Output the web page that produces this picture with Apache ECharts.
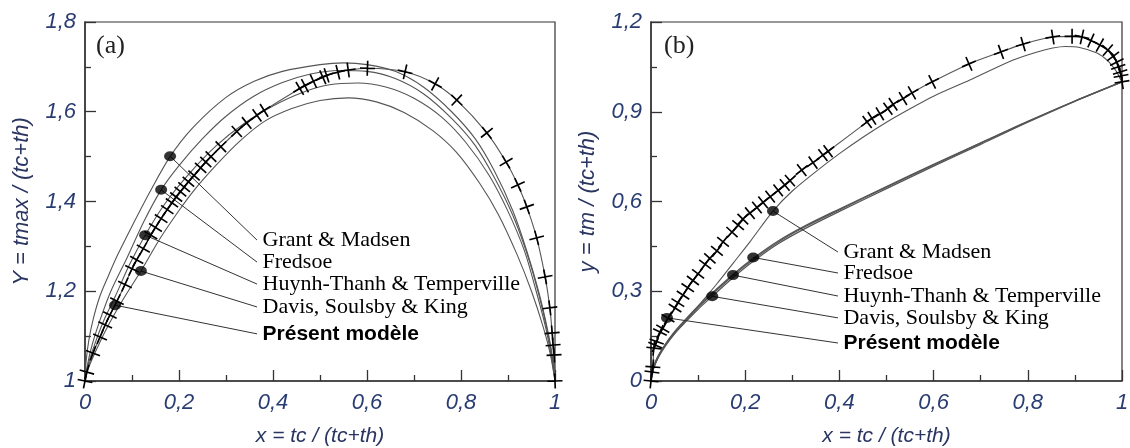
<!DOCTYPE html>
<html><head><meta charset="utf-8">
<script src="https://cdn.jsdelivr.net/npm/echarts@6/dist/echarts.min.js"></script>
<style>html,body{margin:0;padding:0;background:#fff}#c{width:1130px;height:448px}</style>
</head><body><div id="c"></div>
<script>
// ---------- Panel (a): Y = tmax/(tc+th) vs x ----------
const aGrant = [[0,1],[0.002,1.04],[0.008,1.09],[0.018,1.14],[0.032,1.19],[0.05,1.235],[0.069,1.28],[0.1,1.345],[0.14,1.425],[0.181,1.5],[0.23,1.565],[0.3,1.632],[0.36,1.668],[0.42,1.69],[0.5,1.705],[0.55,1.709],[0.6,1.705],[0.66,1.69],[0.72,1.655],[0.78,1.6],[0.83,1.54],[0.87,1.47],[0.91,1.38],[0.94,1.29],[0.965,1.2],[0.985,1.11],[0.995,1.05],[1,1]];
const aFredsoe = [[0,1],[0.005,1.035],[0.015,1.08],[0.03,1.13],[0.055,1.2],[0.09,1.276],[0.125,1.355],[0.162,1.426],[0.2,1.48],[0.25,1.54],[0.3,1.59],[0.36,1.635],[0.42,1.665],[0.48,1.684],[0.54,1.692],[0.6,1.69],[0.66,1.674],[0.72,1.64],[0.78,1.585],[0.83,1.525],[0.87,1.455],[0.91,1.37],[0.94,1.285],[0.965,1.195],[0.985,1.105],[0.995,1.045],[1,1]];
const aHuynh = [[0,1],[0.005,1.03],[0.02,1.08],[0.04,1.135],[0.065,1.19],[0.095,1.26],[0.128,1.325],[0.17,1.395],[0.22,1.46],[0.28,1.525],[0.34,1.575],[0.4,1.613],[0.46,1.642],[0.52,1.66],[0.58,1.664],[0.64,1.655],[0.7,1.63],[0.76,1.587],[0.81,1.532],[0.86,1.458],[0.9,1.378],[0.935,1.29],[0.96,1.2],[0.98,1.12],[0.993,1.05],[1,1]];
const aDavis = [[0,1],[0.005,1.022],[0.02,1.06],[0.045,1.115],[0.08,1.18],[0.119,1.245],[0.16,1.318],[0.2,1.38],[0.232,1.425],[0.28,1.482],[0.33,1.535],[0.381,1.578],[0.44,1.607],[0.5,1.625],[0.56,1.631],[0.62,1.622],[0.68,1.598],[0.74,1.558],[0.79,1.51],[0.84,1.44],[0.88,1.37],[0.92,1.28],[0.95,1.2],[0.975,1.12],[0.99,1.06],[1,1]];
const aPresent = [[0,1],[0.004,1.02],[0.017,1.062],[0.032,1.098],[0.043,1.125],[0.053,1.147],[0.068,1.178],[0.085,1.215],[0.1,1.25],[0.11,1.27],[0.124,1.295],[0.14,1.325],[0.15,1.342],[0.162,1.362],[0.175,1.382],[0.185,1.397],[0.194,1.41],[0.203,1.422],[0.211,1.432],[0.22,1.444],[0.232,1.458],[0.246,1.475],[0.257,1.488],[0.268,1.5],[0.289,1.522],[0.323,1.556],[0.344,1.575],[0.366,1.592],[0.381,1.603],[0.457,1.652],[0.468,1.658],[0.486,1.668],[0.506,1.677],[0.514,1.681],[0.538,1.688],[0.56,1.693],[0.601,1.697],[0.681,1.689],[0.745,1.662],[0.791,1.626],[0.855,1.553],[0.896,1.488],[0.921,1.437],[0.94,1.388],[0.961,1.319],[0.979,1.232],[0.989,1.163],[0.994,1.107],[0.996,1.08],[0.998,1.058],[1,1]];
const aDots = [[0.181,1.501],[0.162,1.426],[0.128,1.325],[0.119,1.245],[0.064,1.169]];
const aLabelEnds = [[0.366,1.314],[0.366,1.265],[0.366,1.216],[0.366,1.165],[0.366,1.105]];

// ---------- Panel (b): y = tm/(tc+th) vs x ----------
const bGrant = [[0,0],[0.005,0.045],[0.012,0.075],[0.025,0.11],[0.045,0.15],[0.068,0.19],[0.1,0.25],[0.14,0.325],[0.175,0.395],[0.21,0.465],[0.259,0.568],[0.3,0.635],[0.35,0.7],[0.4,0.76],[0.45,0.815],[0.5,0.865],[0.55,0.91],[0.6,0.952],[0.677,1.006],[0.769,1.073],[0.82,1.1],[0.853,1.113],[0.88,1.118],[0.91,1.115],[0.947,1.096],[0.97,1.07],[0.981,1.05],[0.99,1.03],[0.996,1.01],[1,1]];
const bLowX = [0,0.005,0.015,0.03,0.05,0.075,0.1,0.13,0.174,0.217,0.27,0.33,0.4,0.5,0.6,0.7,0.8,0.9,1];
const bFredsoeY = [0,0.042,0.081,0.122,0.165,0.209,0.25,0.294,0.356,0.41,0.468,0.521,0.575,0.65,0.724,0.796,0.868,0.936,1.0];
const bHuynhY = [0,0.041,0.079,0.12,0.162,0.206,0.246,0.29,0.352,0.406,0.464,0.518,0.572,0.648,0.722,0.795,0.867,0.936,1.0];
const bDavisY = [0,0.039,0.077,0.116,0.158,0.2,0.24,0.283,0.345,0.4,0.459,0.512,0.567,0.643,0.718,0.791,0.865,0.935,1.0];
const bPresent = [[0,0],[0.002,0.03],[0.004,0.047],[0.006,0.11],[0.009,0.12],[0.012,0.132],[0.019,0.164],[0.025,0.175],[0.036,0.21],[0.051,0.244],[0.057,0.262],[0.068,0.287],[0.078,0.312],[0.089,0.336],[0.1,0.358],[0.115,0.39],[0.125,0.41],[0.14,0.435],[0.153,0.465],[0.172,0.498],[0.185,0.521],[0.195,0.541],[0.21,0.561],[0.225,0.58],[0.238,0.597],[0.253,0.616],[0.27,0.637],[0.284,0.655],[0.295,0.67],[0.32,0.705],[0.344,0.73],[0.365,0.755],[0.376,0.768],[0.459,0.866],[0.469,0.878],[0.486,0.893],[0.503,0.91],[0.514,0.925],[0.535,0.944],[0.554,0.963],[0.597,1.0],[0.675,1.06],[0.743,1.1],[0.79,1.126],[0.853,1.15],[0.894,1.152],[0.915,1.15],[0.934,1.138],[0.953,1.123],[0.97,1.106],[0.981,1.085],[0.989,1.066],[0.992,1.05],[0.996,1.033],[0.998,1.02],[1,1.0]];
const bDots = [[0.259,0.568],[0.217,0.413],[0.174,0.354],[0.13,0.283],[0.034,0.211]];
const bLabelEnds = [[0.397,0.431],[0.397,0.361],[0.397,0.284],[0.397,0.211],[0.397,0.127]];

const modelNames = ['Grant & Madsen','Fredsoe','Huynh-Thanh & Temperville','Davis, Soulsby & King','Présent modèle'];
const xTicks = {min:0, max:1, interval:0.2};
const aYTicks = {min:1, max:1.8, interval:0.2};
const bYTicks = {min:0, max:1.2, interval:0.3};

const zip = (xs, ys) => xs.map((x,i)=>[x, ys[i]]);
const fmt = v => String(Number(v.toFixed(2))).replace('.', ',');
const tickColor = '#2a3d72';
const nameColor = '#2b3561';
const lineColor = '#555';
const plusPath = 'path://M-1,-0.11H1V0.11H-1Z M-0.11,-1H0.11V1H-0.11Z';

function xAxis(gi){
  return {type:'value', gridIndex:gi, min:xTicks.min, max:xTicks.max, interval:xTicks.interval,
    name:'x = tc / (tc+th)', nameLocation:'middle', nameGap:45,
    nameTextStyle:{fontFamily:'Liberation Sans', fontStyle:'italic', fontSize:21, color:nameColor},
    axisLine:{lineStyle:{color:'#333', width:1.5}},
    axisTick:{inside:true, length:11, lineStyle:{color:'#333', width:1.3}},
    minorTick:{show:true, splitNumber:2, length:6, lineStyle:{color:'#333', width:1.3}},
    splitLine:{show:false},
    axisLabel:{formatter:fmt, margin:11, fontFamily:'Liberation Sans', fontStyle:'italic', fontSize:22, color:tickColor}};
}
function yAxis(gi, t, name){
  return {type:'value', gridIndex:gi, min:t.min, max:t.max, interval:t.interval,
    name:name, nameLocation:'middle', nameGap:52,
    nameTextStyle:{fontFamily:'Liberation Sans', fontStyle:'italic', fontSize:22, color:nameColor},
    axisLine:{lineStyle:{color:'#333', width:1.5}},
    axisTick:{inside:true, length:11, lineStyle:{color:'#333', width:1.3}},
    minorTick:{show:true, splitNumber:2, length:6, lineStyle:{color:'#333', width:1.3}},
    splitLine:{show:false},
    axisLabel:{formatter:fmt, margin:9, fontFamily:'Liberation Sans', fontStyle:'italic', fontSize:22, color:tickColor}};
}
function curve(gi, data, extra){
  return Object.assign({type:'line', xAxisIndex:gi, yAxisIndex:gi, data:data, smooth:0.3,
    showSymbol:false, symbol:'none', lineStyle:{color:lineColor, width:1.1}, z:2, silent:true}, extra||{});
}
function leaders(gi, dots, ends){
  return dots.map((d,i)=>({type:'line', xAxisIndex:gi, yAxisIndex:gi, data:[d, ends[i]],
    symbol:'none', lineStyle:{color:'#333', width:1}, z:3, silent:true}));
}
function labelSeries(gi, ends){
  return {type:'scatter', xAxisIndex:gi, yAxisIndex:gi, symbolSize:1, itemStyle:{color:'rgba(0,0,0,0)'}, z:6, silent:true,
    data: ends.map((e,i)=>({value:e, label:{show:true, position:'right', distance:5,
      formatter:modelNames[i],
      fontFamily: i===4 ? 'Liberation Sans' : 'Liberation Serif',
      fontWeight: i===4 ? 'bold' : 'normal',
      fontSize: i===4 ? 21 : 22, color:'#000', opacity:1}}))};
}
function dotSeries(gi, dots){
  return {type:'scatter', xAxisIndex:gi, yAxisIndex:gi, data:dots, symbol:'circle', symbolSize:[12,10],
    itemStyle:{color:'#000'}, z:5, silent:true};
}
function presentSeries(gi, data){
  return curve(gi, data, {showSymbol:true, symbol:plusPath, symbolSize:15,
    itemStyle:{color:'#000'}, z:4});
}

const chart = echarts.init(document.getElementById('c'), null, {renderer:'canvas'});
const gridBase = {top:22, height:359, show:true, borderColor:'#333', borderWidth:1.2,
  backgroundColor:'transparent', containLabel:false, outerBoundsMode:'none'};
const option = {
  animation:false,
  backgroundColor:'#fff',
  grid:[
    Object.assign({left:85, width:470}, gridBase),
    Object.assign({left:651, width:471}, gridBase)
  ],
  xAxis:[xAxis(0), xAxis(1)],
  yAxis:[yAxis(0, aYTicks, 'Y = tmax / (tc+th)'), yAxis(1, bYTicks, 'y = tm / (tc+th)')],
  graphic:[
    {type:'text', left:96, top:33, style:{text:'(a)', font:'26px "Liberation Serif"', fill:'#222'}},
    {type:'text', left:664, top:33, style:{text:'(b)', font:'26px "Liberation Serif"', fill:'#222'}}
  ],
  series:[
    curve(0, aGrant), curve(0, aFredsoe), curve(0, aHuynh), curve(0, aDavis),
    presentSeries(0, aPresent),
    ...leaders(0, aDots, aLabelEnds),
    labelSeries(0, aLabelEnds),
    dotSeries(0, aDots),
    curve(1, bGrant),
    curve(1, zip(bLowX, bFredsoeY), {lineStyle:{color:'#555', width:1.3}}),
    curve(1, zip(bLowX, bHuynhY), {lineStyle:{color:'#555', width:1.3}}),
    curve(1, zip(bLowX, bDavisY), {lineStyle:{color:'#555', width:1.3}}),
    presentSeries(1, bPresent),
    ...leaders(1, bDots, bLabelEnds),
    labelSeries(1, bLabelEnds),
    dotSeries(1, bDots)
  ]
};
chart.setOption(option);

// orient each "+" marker along the local tangent of the curve (screen space)
function oriented(pts, gi){
  return pts.map((p,i)=>{
    const a = pts[Math.max(0,i-1)], b = pts[Math.min(pts.length-1,i+1)];
    const pa = chart.convertToPixel({gridIndex:gi}, a), pb = chart.convertToPixel({gridIndex:gi}, b);
    const ang = Math.atan2(-(pb[1]-pa[1]), pb[0]-pa[0]) * 180 / Math.PI;
    return {value:p, symbolRotate:ang};
  });
}
const s = option.series;
const presentIdx = s.map((x,i)=> x.symbol===plusPath ? i : -1).filter(i=>i>=0);
s[presentIdx[0]].data = oriented(aPresent, 0);
s[presentIdx[1]].data = oriented(bPresent, 1);
chart.setOption(option);
</script>
</body></html>
